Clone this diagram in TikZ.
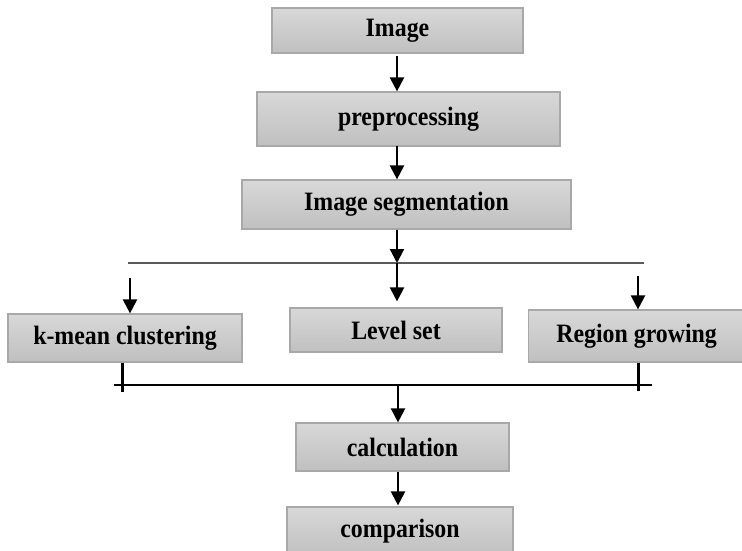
\documentclass[tikz,border=0pt]{standalone}
\usepackage{fontspec}
\setmainfont{Liberation Serif}
\newfontfamily\boxfont[FakeStretch=0.9]{Liberation Serif}
\usetikzlibrary{arrows.meta,calc}
\definecolor{boxtop}{RGB}{216,216,216}
\definecolor{boxbot}{RGB}{192,192,192}
\definecolor{boxline}{RGB}{168,168,168}
\definecolor{topline}{RGB}{90,90,90}
\tikzset{
  procbox/.style={draw=boxline, line width=1.2pt, top color=boxtop, bottom color=boxbot,
    rectangle, inner sep=0pt, font=\boxfont\fontsize{26.5}{30}\selectfont\bfseries},
  arr/.style={line width=2.2pt, -{Triangle[width=14pt,length=14pt]}},
  tick/.style={line width=3pt},
}
\begin{document}
\begin{tikzpicture}[x=1pt,y=-1pt]
\useasboundingbox (0,0) rectangle (742,551);
\node[procbox, minimum width=251pt, minimum height=45pt] (img) at (397.5,30.5) {Image};
\node[procbox, minimum width=303pt, minimum height=54pt] (pre) at (408.5,119) {preprocessing};
\node[procbox, minimum width=329pt, minimum height=49pt] (seg) at (406.5,204.5) {Image segmentation};
\node[procbox, minimum width=234pt, minimum height=48pt] (km) at (125,338) {k-mean clustering};
\node[procbox, minimum width=212pt, minimum height=44pt] (ls) at (396,330) {Level set};
\node[procbox, minimum width=224pt, minimum height=52pt, anchor=west] (rg) at (528,336) {\hspace*{-8pt}Region growing};
\node[procbox, minimum width=213pt, minimum height=48pt] (calc) at (402.5,447) {calculation};
\node[procbox, minimum width=226pt, minimum height=49pt] (comp) at (400,531.5) {comparison};

% junction coordinates
\coordinate (cx) at (397,0);
\coordinate (topL) at (128,263);
\coordinate (topR) at (644,263);
\coordinate (topM) at (397,263);
\coordinate (botL) at (114,385);
\coordinate (botR) at (652,385);
\coordinate (botM) at (398,385);
\coordinate (kmIn) at (130,278);
\coordinate (rgIn) at (638,276);
\coordinate (kmTick) at (122,392);
\coordinate (rgTick) at (638,391);

\draw[arr] ($(cx |- img.south)+(0,2)$) -- (cx |- pre.north);
\draw[arr] ($(cx |- pre.south)+(0,-1)$) -- (cx |- seg.north);
\draw[arr] (cx |- seg.south) -- (topM);
\draw[topline, line width=1.6pt] (topL) -- (topR);
\draw[arr] (topM) -- ($(cx |- ls.north)+(0,-6)$);
\draw[arr] (kmIn) -- (kmIn |- km.north);
\draw[arr] (rgIn) -- (rgIn |- rg.north);

\draw[black, line width=1.3pt] (botL) -- (botR);
\draw[tick] (kmTick |- km.south) -- (kmTick);
\draw[tick] (rgTick |- rg.south) -- (rgTick);
\draw[arr] (botM) -- (botM |- calc.north);
\draw[arr] (calc.south -| botM) -- ($(botM |- comp.north)+(0,-1)$);
\end{tikzpicture}
\end{document}
